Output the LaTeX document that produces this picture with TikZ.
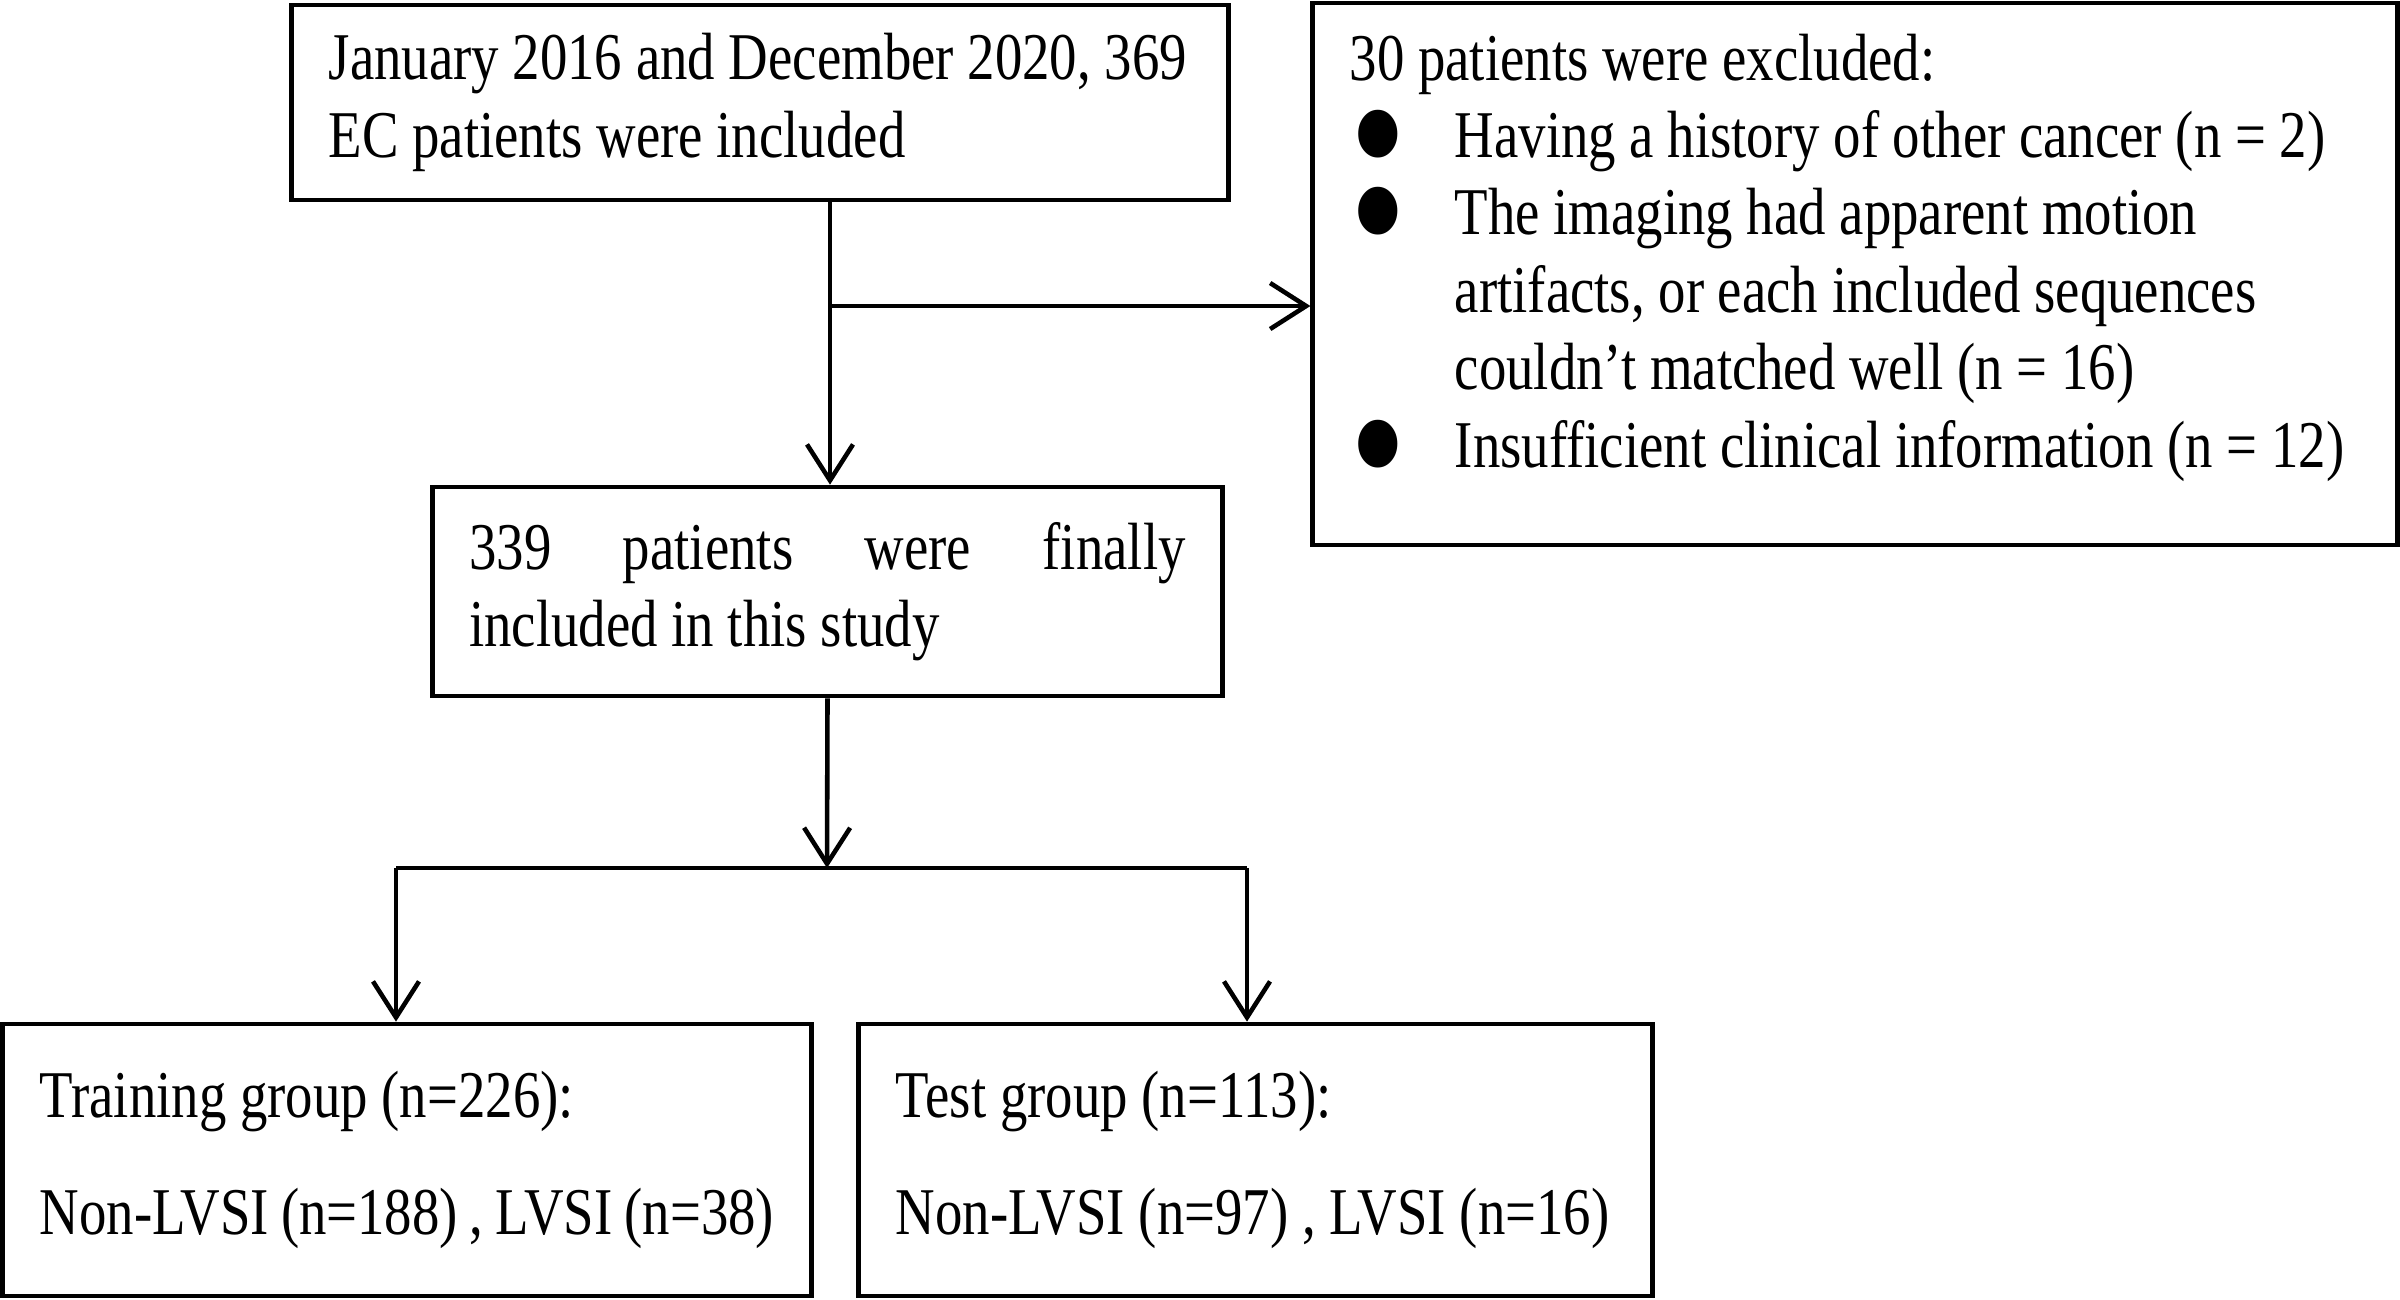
\documentclass[tikz,border=0pt]{standalone}
\usepackage{fontspec}
\setmainfont[FakeStretch=0.82]{Liberation Serif}
\usetikzlibrary{arrows.meta,positioning}

\newcommand{\flowfont}{\fontsize{19}{22}\selectfont}
\newcommand{\bulletmark}{\makebox[1.05cm][l]{\smash{\raisebox{-0.43cm}{\scalebox{3.0}{\textbullet}}}}}
\newcommand{\hangmark}{\hspace*{1.05cm}}

\tikzset{
    flowbox/.style={draw, line width=1.3pt, inner xsep=0.37cm, inner ysep=0pt, font=\flowfont},
    flowline/.style={line width=1.3pt},
    flowarrow/.style={line width=1.3pt, -{Straight Barb[length=0.36cm,width=0.46cm,line width=1.3pt]}},
}

\begin{document}
\begin{tikzpicture}[x=0.01cm, y=-0.01cm]
    \useasboundingbox (0,0) rectangle (2400,1299);

    % boxes
    \node[flowbox, minimum height=1.95cm] (incl) at (760,102.5)
        {\parbox{8.62cm}{\flowfont January 2016 and December 2020, 369\\EC patients were included}};
    \node[flowbox, inner ysep=0.31cm] (excl) at (1855,274)
        {\parbox[c][4.80cm][t]{10.1cm}{\flowfont
            30 patients were excluded:\\
            \bulletmark Having a history of other cancer (n = 2)\\
            \bulletmark The imaging had apparent motion\\
            \hangmark artifacts, or each included sequences\\
            \hangmark couldn’t matched well (n = 16)\\
            \bulletmark Insufficient clinical information (n = 12)}};
    \node[flowbox, minimum height=2.09cm] (final) at (827.5,591.5)
        {\parbox{7.16cm}{\flowfont 339 patients were finally\linebreak included in this study}};
    \node[flowbox, minimum height=2.72cm] (train) at (407,1160)
        {\parbox{7.34cm}{\flowfont Training group (n=226):\\[0.4cm]Non-LVSI (n=188) , LVSI (n=38)}};
    \node[flowbox, minimum height=2.72cm] (test) at (1255.5,1160)
        {\parbox{7.19cm}{\flowfont Test group (n=113):\\[0.4cm]Non-LVSI (n=97) , LVSI (n=16)}};

    % connectors
    \coordinate (fork) at (830,306);
    \coordinate (junc) at (827,868);
    \coordinate (lbranch) at (396,868);
    \coordinate (rbranch) at (1247,868);
    \draw[flowarrow] (fork |- incl.south) -- (fork |- final.north);
    \draw[flowarrow] (fork) -- (fork -| excl.west);
    \draw[flowarrow] (final.south) -- (junc);
    \draw[flowline] (lbranch) -- (rbranch);
    \draw[flowarrow] (lbranch) -- (lbranch |- train.north);
    \draw[flowarrow] (rbranch) -- (rbranch |- test.north);
\end{tikzpicture}
\end{document}
